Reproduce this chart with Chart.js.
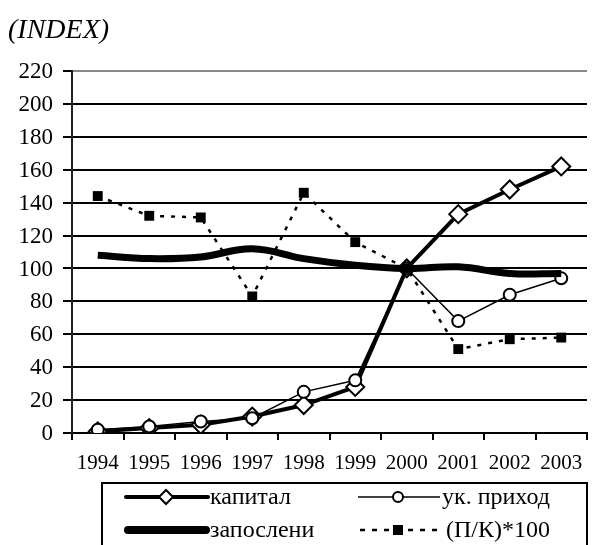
<!DOCTYPE html>
<html>
<head>
<meta charset="utf-8">
<script src="https://cdn.jsdelivr.net/npm/chart.js@4"></script>
<style>
body { margin: 0; background: #fff; width: 598px; height: 545px; overflow: hidden; }
#wrap { position: relative; width: 598px; height: 545px; }
</style>
</head>
<body>
<div id="wrap"><canvas id="chart"></canvas></div>
<script>
const years = ['1994', '1995', '1996', '1997', '1998', '1999', '2000', '2001', '2002', '2003'];
const kapital = [1, 3, 5, 10, 17, 28, 100, 133, 148, 162];
const ukPrihod = [2, 4, 7, 9, 25, 32, 100, 68, 84, 94];
const zaposleni = [108, 106, 107, 112, 106, 102, 100, 101, 97, 97];
const pkRatio = [144, 132, 131, 83, 146, 116, 100, 51, 57, 58];
const seriesNames = ['капитал', 'ук. приход', 'запослени', '(П/К)*100'];
const titleText = '(INDEX)';
const yMin = 0, yMax = 220, yStep = 20;

const FONT = "'Liberation Serif', 'Times New Roman', serif";

// text, axis labels and the boxed legend are painted straight on the canvas
const textPlugin = {
    id: 'serifText',
    afterDraw(chart) {
        const c = chart.ctx;
        const xs = chart.scales.x;
        const ys = chart.scales.y;
        c.save();
        c.fillStyle = '#000';
        c.strokeStyle = '#000';

        c.font = 'italic 28px ' + FONT;
        c.textAlign = 'left';
        c.textBaseline = 'middle';
        c.fillText(titleText, 8, 31);

        c.font = '23px ' + FONT;
        c.textAlign = 'right';
        ys.ticks.forEach((t) => {
            c.fillText(String(t.value), ys.right - 19, ys.getPixelForValue(t.value) + 1);
        });
        c.font = '21px ' + FONT;
        c.textAlign = 'center';
        years.forEach((y, i) => {
            c.fillText(y, xs.getPixelForTick(i), 463);
        });

        // legend box
        c.lineWidth = 2;
        c.strokeRect(102, 483, 485, 80);
        const r1 = 497, r2 = 530;

        c.lineCap = 'round';
        c.lineWidth = 4;
        c.beginPath(); c.moveTo(126, r1); c.lineTo(208, r1); c.stroke();
        c.lineWidth = 2;
        c.beginPath();
        c.moveTo(166, r1 - 7); c.lineTo(173, r1); c.lineTo(166, r1 + 7); c.lineTo(159, r1); c.closePath();
        c.fillStyle = '#fff'; c.fill(); c.stroke();

        c.lineWidth = 8;
        c.beginPath(); c.moveTo(128, r2); c.lineTo(206, r2); c.stroke();

        c.lineCap = 'butt';
        c.lineWidth = 1.5;
        c.beginPath(); c.moveTo(358, r1); c.lineTo(440, r1); c.stroke();
        c.lineWidth = 2;
        c.beginPath(); c.arc(398, r1, 5, 0, Math.PI * 2);
        c.fillStyle = '#fff'; c.fill(); c.stroke();

        c.lineWidth = 2.5;
        c.setLineDash([5, 7]);
        c.beginPath(); c.moveTo(360, r2); c.lineTo(444, r2); c.stroke();
        c.setLineDash([]);
        c.fillStyle = '#000';
        c.fillRect(393, r2 - 5, 10, 10);

        c.font = '24px ' + FONT;
        c.textAlign = 'left';
        c.fillText(seriesNames[0], 210, r1 + 1);
        c.fillText(seriesNames[2], 210, r2 + 1);
        c.fillText(seriesNames[1], 442, r1 + 1);
        c.fillText(seriesNames[3], 446, r2 + 1);
        c.restore();
    },
};

function drawChart() {
    const ctx = document.getElementById('chart').getContext('2d');
    new Chart(ctx, {
        type: 'line',
        data: {
            labels: years,
            datasets: [
                {
                    label: seriesNames[3],
                    data: pkRatio,
                    borderColor: '#000',
                    borderWidth: 2.5,
                    borderDash: [4, 7],
                    pointStyle: 'rect',
                    pointRadius: 7,
                    pointBackgroundColor: '#000',
                    pointBorderWidth: 0,
                    order: 1,
                },
                {
                    label: seriesNames[2],
                    data: zaposleni,
                    borderColor: '#000',
                    borderWidth: 7,
                    tension: 0.4,
                    pointRadius: 0,
                    order: 2,
                },
                {
                    label: seriesNames[1],
                    data: ukPrihod,
                    borderColor: '#000',
                    borderWidth: 1.5,
                    pointStyle: 'circle',
                    pointRadius: 6,
                    pointBackgroundColor: '#fff',
                    pointBorderColor: '#000',
                    pointBorderWidth: 2,
                    order: 3,
                },
                {
                    label: seriesNames[0],
                    data: kapital,
                    borderColor: '#000',
                    borderWidth: 4,
                    pointStyle: 'rectRot',
                    pointRadius: 9,
                    pointBackgroundColor: '#fff',
                    pointBorderColor: '#000',
                    pointBorderWidth: 2,
                    order: 4,
                },
            ],
        },
        options: {
            responsive: true,
            maintainAspectRatio: false,
            animation: false,
            layout: { padding: { top: 71, right: 0, left: 0, bottom: 65 } },
            plugins: {
                legend: { display: false },
                tooltip: { enabled: false },
            },
            scales: {
                x: {
                    offset: true,
                    afterFit: (scale) => { scale.height = 47; },
                    grid: { offset: true, drawOnChartArea: false, tickLength: 7, color: '#000', lineWidth: 2 },
                    border: { color: '#000', width: 2 },
                    ticks: { display: false },
                },
                y: {
                    min: yMin,
                    max: yMax,
                    afterFit: (scale) => { scale.width = 72; },
                    grid: {
                        color: (c) => (c.tick && c.tick.value === yMax ? '#888' : '#000'),
                        tickColor: '#000',
                        lineWidth: 2,
                        tickLength: 9,
                    },
                    border: { color: '#222', width: 2 },
                    ticks: { stepSize: yStep, display: false },
                },
            },
        },
        plugins: [textPlugin],
    });
}

drawChart();
</script>
</body>
</html>
